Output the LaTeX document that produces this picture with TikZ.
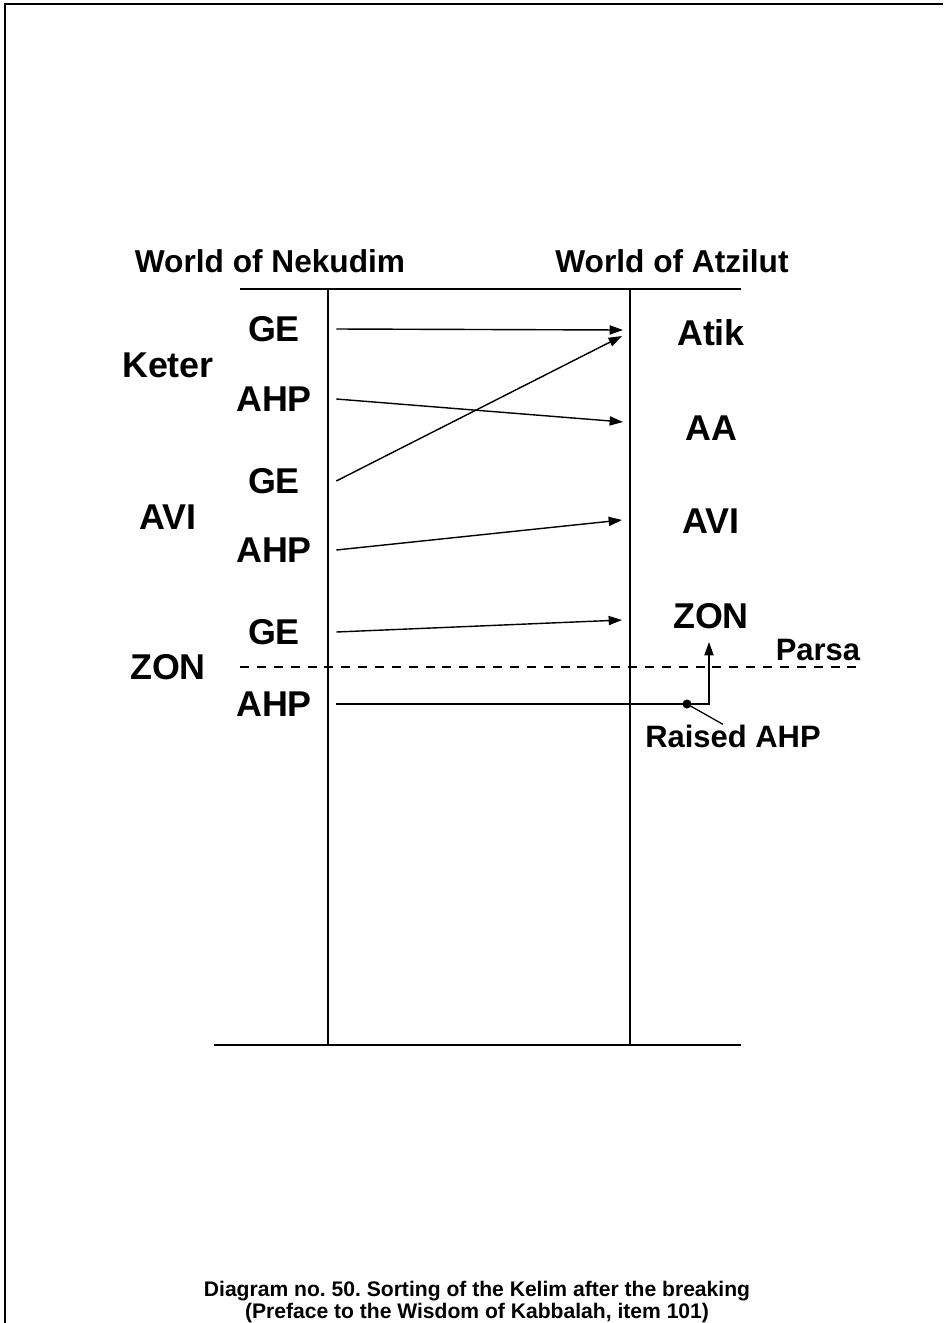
\documentclass[tikz,border=0pt]{standalone}
\usepackage{fontspec}
\setmainfont{Liberation Sans}
\usetikzlibrary{arrows.meta}
\frenchspacing

\begin{document}
\begin{tikzpicture}[x=0.025cm,y=-0.025cm,
  head/.style={font=\fontsize{22.5}{27}\selectfont\bfseries, inner sep=0pt},
  big/.style={font=\fontsize{25.5}{30}\selectfont\bfseries, inner sep=0pt},
  row/.style={big, minimum width=3.1cm},
  small/.style={font=\fontsize{22}{26}\selectfont\bfseries, inner sep=0pt},
  arr/.style={line width=1pt, -{Triangle[length=9.5pt,width=6.5pt]}}]
\useasboundingbox (0,0) rectangle (943,1323);
\draw[line width=1.5pt] (5,1323) |- (943,4);
% columns
\draw[line width=1.9pt] (240,289) -- (741,289);
\draw[line width=1.9pt] (214,1045) -- (741,1045);
\draw[line width=1.7pt] (328,289) -- (328,1045);
\draw[line width=1.7pt] (630,289) -- (630,1045);
\draw[line width=0.9pt, dash pattern=on 6.4pt off 5.6pt] (240,667) -- (862,667);
% titles
\node[head](nek) at (270,261){World of Nekudim};
\node[head](atz) at (672,261){World of Atzilut};
% left side
\node[big](keter) at (168,365){Keter};
\node[big](avil) at (168,517){AVI};
\node[big](zonl) at (168,667){ZON};
\node[row](ge1) at (274,329){GE};
\node[row](ahp1) at (274,399){AHP};
\node[row](ge2) at (274,481){GE};
\node[row](ahp2) at (274,550){AHP};
\node[row](ge3) at (274,632){GE};
\node[row](ahp3) at (274,704){AHP};
% right side
\node[big](atik) at (711,333){Atik};
\node[big](aa) at (711,428){AA};
\node[big](avir) at (711,521){AVI};
\node[big](zonr) at (711,616){ZON};
\node[small](parsa) at (818,650){Parsa};
\node[small](raised) at (733,736){Raised AHP};
\coordinate (in1) at (623,330);
\coordinate (in2) at (623,422);
\coordinate (in3) at (622,336);
\coordinate (in4) at (622,520);
\coordinate (in5) at (622,620);
\coordinate (up) at (709,642);
\coordinate (dot) at (687,704);
\draw[arr] (ge1.east) -- (in1);
\draw[arr] (ahp1.east) -- (in2);
\draw[arr] (ge2.east) -- (in3);
\draw[arr] (ahp2.east) -- (in4);
\draw[arr] (ge3.east) -- (in5);
\draw[arr] (ahp3.east) -| (up);
\fill (dot) circle (3.2pt);
\draw[line width=0.9pt] (dot) -- ([xshift=-0.25cm]raised.north);
% caption
\node[font=\fontsize{15}{12.5}\selectfont\bfseries, align=center, inner sep=0pt](cap) at (477,1302)
  {Diagram no. 50. Sorting of the Kelim after the breaking\\(Preface to the Wisdom of Kabbalah, item 101)};
\end{tikzpicture}
\end{document}
